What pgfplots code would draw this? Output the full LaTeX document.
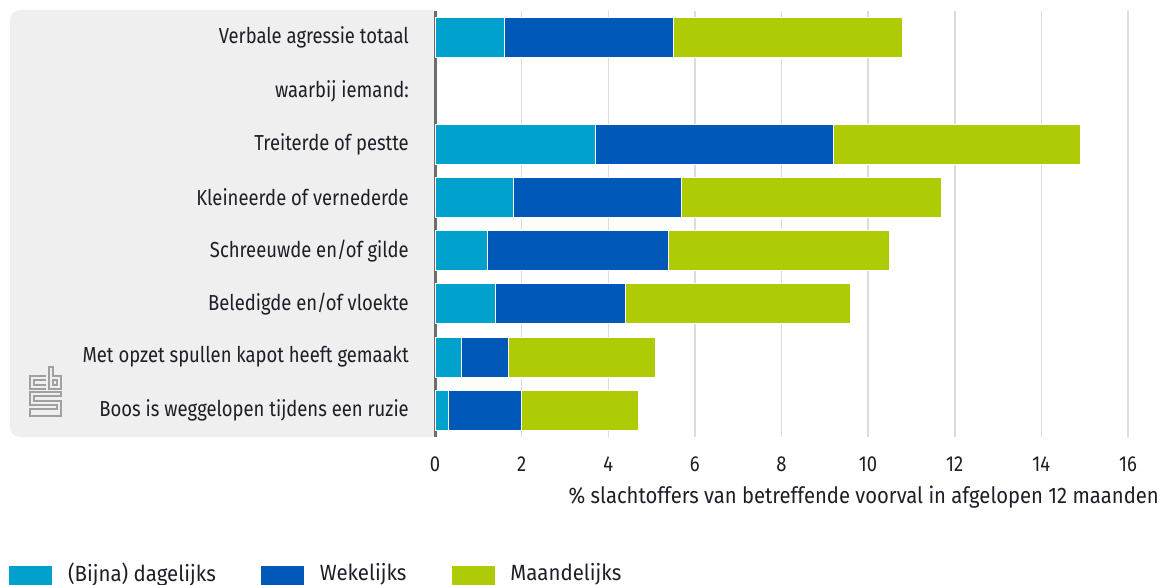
\documentclass[border=0pt]{standalone}
\usepackage{fontspec}
\setmainfont{Fira Sans}[FakeStretch=0.85]
\newfontfamily\legfont{Fira Sans}[FakeStretch=0.93]
\newfontfamily\labfont{Fira Sans}[FakeStretch=0.90]
\usepackage{pgfplots}
\usepackage{pgfplotstable}
\pgfplotsset{compat=1.18}
\definecolor{cDaily}{HTML}{00A1CD}
\definecolor{cWeekly}{HTML}{0058B8}
\definecolor{cMonthly}{HTML}{AFCB05}
\definecolor{txt}{HTML}{1E1E28}
\definecolor{bgc}{HTML}{EFEFEF}
\definecolor{gridc}{HTML}{DCDCDC}
\definecolor{axl}{HTML}{6E6E6E}
\definecolor{logoc}{HTML}{A0A0A0}

\pgfplotstableread{
y daily weekly monthly
0 1.6 3.9 5.3
2 3.7 5.5 5.7
3 1.8 3.9 6.0
4 1.2 4.2 5.1
5 1.4 3.0 5.2
6 0.6 1.1 3.4
7 0.3 1.7 2.7
}\datatable

\begin{document}
\begin{tikzpicture}
\fill[bgc] (436pt,-10pt) {[rounded corners=10pt] -- (10pt,-10pt) -- (10pt,-437pt)} -- (436pt,-437pt) -- cycle;
% cbs logo
\begin{scope}[logoc, line width=1.2pt]
\draw (46pt,-376pt) -- (30pt,-376pt) -- (30pt,-389pt) -- (46pt,-389pt);
\draw (46pt,-380pt) -- (34pt,-380pt) -- (34pt,-385pt) -- (46pt,-385pt);
\draw (49pt,-367pt) -- (49pt,-389pt) -- (61pt,-389pt) -- (61pt,-376pt) -- (53pt,-376pt) -- (53pt,-367pt) -- cycle;
\draw (53pt,-380pt) rectangle (57pt,-385pt);
\draw (61pt,-392pt) -- (30pt,-392pt) -- (30pt,-405pt) -- (57pt,-405pt) -- (57pt,-409pt) -- (30pt,-409pt) -- (30pt,-416pt) -- (61pt,-416pt) -- (61pt,-401pt) -- (34pt,-401pt) -- (34pt,-396pt) -- (61pt,-396pt) -- cycle;
\end{scope}
\begin{axis}[
  at={(435pt,-437pt)}, anchor=south west,
  scale only axis, width=693pt, height=426pt,
  xbar stacked, bar width=40pt,
  xmin=0, xmax=16, ymin=-0.5, ymax=7.5, y dir=reverse,
  xtick={0,2,...,16}, ytick={0,...,7},
  yticklabels={Verbale agressie totaal, waarbij iemand:, Treiterde of pestte, Kleineerde of vernederde, Schreeuwde en/of gilde, Beledigde en/of vloekte, Met opzet spullen kapot heeft gemaakt, Boos is weggelopen tijdens een ruzie},
  axis x line=bottom, axis y line=left,
  axis line style={-},
  x axis line style={draw=none},
  y axis line style={axl, line width=3pt},
  xmajorgrids, grid style={gridc, line width=1.5pt},
  major tick length=0pt, tick style={draw=none},
  /pgf/number format/assume math mode=true,
  ticklabel style={font=\fontsize{21.7}{25}\selectfont, text=txt},
  xticklabel style={inner sep=0pt, anchor=north, yshift=-20pt},
  yticklabel style={inner sep=0pt, anchor=east, xshift=-26pt},
  xlabel={\% slachtoffers van betreffende voorval in afgelopen 12 maanden},
  xlabel style={font=\labfont\fontsize{22.5}{25}\selectfont, text=txt, inner sep=0pt, anchor=base east, at={(axis description cs:1.0447,-0.155)}},
  legend columns=3,
  legend style={draw=none, fill=none, inner sep=0pt, outer sep=0pt, at={(axis description cs:-0.6147,-0.3228)}, anchor=west, font=\legfont\fontsize{22}{25}\selectfont, text=txt, nodes={inner sep=0pt},
    /tikz/every odd column/.style={column sep=16pt},
    /tikz/every even column/.style={column sep=45pt}},
  legend image code/.code={\fill[#1, draw=none] (0pt,-14pt) rectangle (43pt,6.5pt);},
]
\addplot[fill=cDaily, draw=white, line width=0.8pt] table[x=daily, y=y]{\datatable};
\addplot[fill=cWeekly, draw=white, line width=0.8pt] table[x=weekly, y=y]{\datatable};
\addplot[fill=cMonthly, draw=white, line width=0.8pt] table[x=monthly, y=y]{\datatable};
\legend{(Bijna) dagelijks, Wekelijks, Maandelijks}
\end{axis}
\pgfresetboundingbox
\useasboundingbox (0pt,0pt) rectangle (1164pt,-585pt);
\end{tikzpicture}
\end{document}
